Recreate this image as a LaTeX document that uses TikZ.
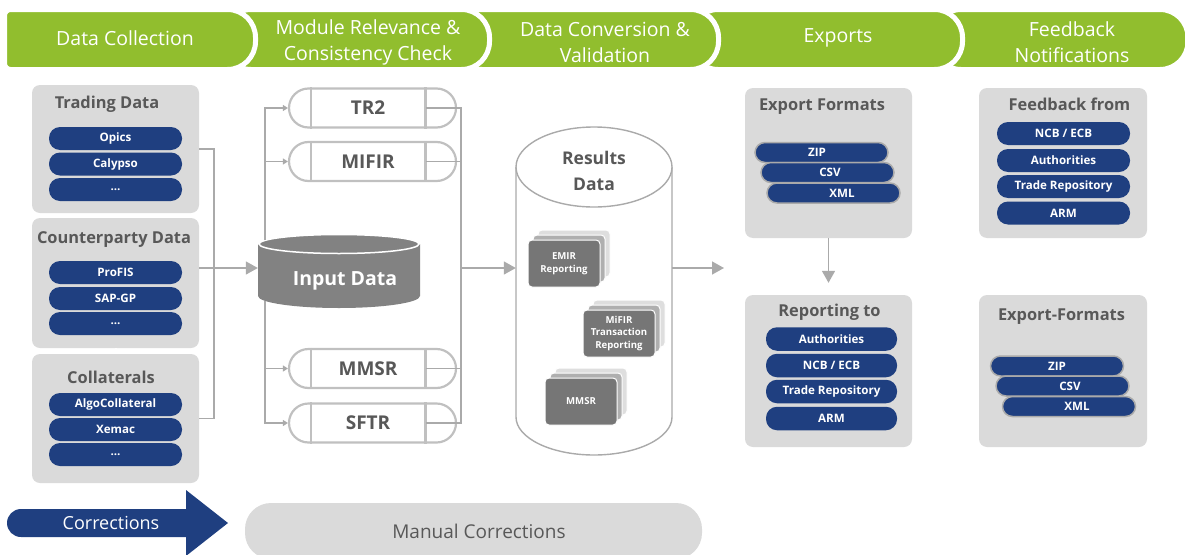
\documentclass[tikz,border=0pt]{standalone}
\usepackage{fontspec}
\setmainfont{Open Sans}
\usetikzlibrary{arrows.meta}
\definecolor{hgreen}{RGB}{145,190,46}
\definecolor{boxgray}{RGB}{218,218,218}
\definecolor{pblue}{RGB}{31,63,128}
\definecolor{tgray}{RGB}{88,88,88}
\definecolor{lgray}{RGB}{170,170,170}
\definecolor{mgray}{RGB}{192,192,192}
\definecolor{cgray}{RGB}{130,130,130}
\definecolor{cardA}{RGB}{118,118,118}
\definecolor{cardB}{RGB}{175,175,175}
\definecolor{cardC}{RGB}{222,222,222}
\begin{document}
\begin{tikzpicture}[x=1pt,y=1pt,
  tab/.style={fill=hgreen, draw=white, line width=5pt},
  tabtext/.style={text=white, font=\fontsize{19.5}{26}\selectfont, align=center, inner sep=0pt},
  gbox/.style={fill=boxgray, rounded corners=8pt, inner sep=0pt, minimum width=167pt},
  btitle/.style={text=tgray, font=\bfseries\fontsize{16.4}{19}\selectfont, inner sep=0pt},
  pill/.style={fill=pblue, text=white, font=\bfseries\fontsize{11.6}{13}\selectfont, rounded corners=11pt, minimum width=133pt, minimum height=23pt, inner sep=0pt},
  spill/.style={fill=pblue, draw=lgray, line width=1.5pt, rounded corners=10pt, minimum width=133pt, minimum height=20pt, inner sep=0pt},
  ptxt/.style={text=white, font=\bfseries\fontsize{11.6}{13}\selectfont, inner sep=0pt},
  modbox/.style={draw=mgray, line width=2.2pt, fill=white, rounded corners=19.5pt, minimum width=167pt, minimum height=39pt, inner sep=0pt},
  modtxt/.style={text=tgray, font=\bfseries\fontsize{19}{22}\selectfont, inner sep=0pt},
  conn/.style={draw=lgray, line width=1.5pt},
  smallarr/.style={-{Triangle[width=6pt,length=5pt]}},
  bigarr/.style={-{Triangle[width=13pt,length=12pt]}},
  card/.style={rounded corners=4pt, draw=white, line width=1pt, minimum width=72pt, minimum height=47pt, inner sep=0pt},
  cardtxt/.style={text=white, font=\bfseries\fontsize{9.6}{12.8}\selectfont, align=center, inner sep=0pt}
]
\useasboundingbox (0,0) rectangle (1185,-554);
\clip (0,0) rectangle (1185,-554);

% ---------------- header tabs ----------------
\filldraw[tab] (940,-9.5) [rounded corners=28pt] -- (1188,-9.5) -- (1188,-69.5) -- (940,-69.5) -- (933,-69.5) -- (933,-9.5) -- cycle;
\filldraw[tab] (700,-9.5) [rounded corners=28pt] -- (962.5,-9.5) -- (962.5,-69.5) -- (700,-69.5) -- (690,-69.5) -- (690,-9.5) -- cycle;
\filldraw[tab] (460,-9.5) [rounded corners=28pt] -- (718.5,-9.5) -- (718.5,-69.5) -- (460,-69.5) -- (454,-69.5) -- (454,-9.5) -- cycle;
\filldraw[tab] (230,-9.5) [rounded corners=28pt] -- (489.5,-9.5) -- (489.5,-69.5) -- (230,-69.5) -- (223,-69.5) -- (223,-9.5) -- cycle;
\filldraw[tab] (20,-9.5) [rounded corners=28pt] -- (255.5,-9.5) -- (255.5,-69.5) -- (20,-69.5) [rounded corners=6pt] -- (4.5,-69.5) -- (4.5,-9.5) -- cycle;

\node[tabtext] (h1) at (125,-38) {Data Collection};
\node[tabtext] (h2) at (368,-42) {Module Relevance \&\\Consistency Check};
\node[tabtext] (h3) at (605,-42) {Data Conversion \&\\Validation};
\node[tabtext] (h4) at (838,-38) {Exports};
\node[tabtext] (h5) at (1072,-42) {Feedback\\Notifications};

% ---------------- data collection ----------------
\node[gbox, minimum height=128pt] (trading) at (115.5,-149) {};
\node[gbox, minimum height=130pt] (counter) at (115.5,-283) {};
\node[gbox, minimum height=129pt] (collat) at (115.5,-418.5) {};
\draw[white, line width=2pt, dash pattern=on 2pt off 2.5pt] (counter.south) -- (collat.north);

\node[btitle] (tTrading) at (107,-104) {Trading Data};
\node[btitle] (tCounter) at (114,-240) {Counterparty Data};
\node[btitle] (tCollat) at (111,-377) {Collaterals};

\node[pill] (opics) at (115.5,-138.5) {Opics};
\node[pill] (calypso) at (115.5,-164) {Calypso};
\node[pill] (tdots) at (115.5,-189.5) {...};
\node[pill] (profis) at (115.5,-272.5) {ProFIS};
\node[pill] (sapgp) at (115.5,-298.5) {SAP-GP};
\node[pill] (cdots) at (115.5,-323.5) {...};
\node[pill] (algo) at (115.5,-404.5) {AlgoCollateral};
\node[pill] (xemac) at (115.5,-429.5) {Xemac};
\node[pill] (kdots) at (115.5,-454.5) {...};

% ---------------- input data cylinder ----------------
\node[minimum width=162pt, minimum height=73pt, inner sep=0pt] (inp) at (339,-270.5) {};
\fill[cgray] (258,-244) -- (258,-296) arc[start angle=180, end angle=360, x radius=81, y radius=12] -- (420,-244) -- cycle;
\filldraw[fill=cgray, draw=white, line width=1.5pt] (339,-244) ellipse [x radius=80, y radius=9.5];
\node[text=white, font=\bfseries\fontsize{19.5}{22}\selectfont, inner sep=0pt] (inpTxt) at (345,-281) {Input Data};

\coordinate (bx) at (214,-268);
\draw[conn] (trading.east) -| (bx) |- (collat.east);
\draw[conn, bigarr] (counter.east |- bx) -- (inp.west |- bx);

% ---------------- modules ----------------
\node[modbox] (tr2) at (372.5,-108) {};
\node[modbox] (mifir) at (372.5,-161.5) {};
\node[modbox] (mmsr) at (372.5,-368.5) {};
\node[modbox] (sftr) at (372.5,-423) {};
\foreach \m in {tr2,mifir,mmsr,sftr}{
  \draw[mgray, line width=2.2pt] ([xshift=-61.5pt]\m.north) -- ([xshift=-61.5pt]\m.south);
  \draw[mgray, line width=2.2pt] ([xshift=53pt]\m.north) -- ([xshift=53pt]\m.south);
}
\node[modtxt] (tr2t) at ([xshift=-4.5pt]tr2.center) {TR2};
\node[modtxt] (mifirt) at ([xshift=-4.5pt]mifir.center) {MIFIR};
\node[modtxt] (mmsrt) at ([xshift=-4.5pt]mmsr.center) {MMSR};
\node[modtxt] (sftrt) at ([xshift=-4.5pt]sftr.center) {SFTR};

\coordinate (inTop) at (265,-240);
\coordinate (inBot) at (265,-301);
\draw[conn, smallarr] (inTop) |- (tr2.west);
\draw[conn, smallarr] (inTop) |- (mifir.west);
\draw[conn, smallarr] (inBot) |- (mmsr.west);
\draw[conn, smallarr] (inBot) |- (sftr.west);

\coordinate (rc) at (461,-268);
\foreach \m in {tr2,mifir,mmsr,sftr}{
  \draw[conn] ([xshift=53pt]\m.center) -| (rc);
}

% ---------------- results cylinder ----------------
\node[minimum width=156pt, minimum height=328pt, inner sep=0pt] (res) at (594,-291) {};
\filldraw[fill=white, draw=lgray, line width=1.4pt] (516,-167) -- (516,-417) arc[start angle=180, end angle=360, x radius=78, y radius=38] -- (672,-167);
\filldraw[fill=white, draw=lgray, line width=1.4pt] (594,-167) ellipse [x radius=78, y radius=40];
\node[text=tgray, font=\bfseries\fontsize{17.5}{26}\selectfont, align=center, inner sep=0pt] (resTxt) at (594,-171) {Results\\Data};
\draw[conn, bigarr] (rc) -- (res.west |- rc);

% cards
\node[card, fill=cardC] (emirC) at (574,-253.5) {};
\node[card, fill=cardB] (emirB) at (569,-258.5) {};
\node[card, fill=cardA] (emirA) at (564,-263.5) {};
\node[cardtxt] (emirT) at (emirA.center) {EMIR\\Reporting};
\node[card, fill=cardC] (mifC) at (629,-323.5) {};
\node[card, fill=cardB] (mifB) at (624,-328.5) {};
\node[card, fill=cardA] (mifA) at (619,-333.5) {};
\node[cardtxt] (mifT) at (mifA.center) {MiFIR\\Transaction\\Reporting};
\node[card, fill=cardC] (mmC) at (591,-391.5) {};
\node[card, fill=cardB] (mmB) at (586,-396.5) {};
\node[card, fill=cardA] (mmA) at (581,-401.5) {};
\node[cardtxt] (mmT) at (mmA.center) {MMSR};

\coordinate (expIn) at (724,-268);
\draw[conn, bigarr] (res.east |- rc) -- (expIn);

% ---------------- exports ----------------
\node[gbox, minimum height=150pt] (expf) at (828.5,-163) {};
\node[btitle] (tExp) at (822,-107) {Export Formats};
\node[spill] (zipA) at (821.5,-152.5) {};
\node[spill] (csvA) at (827.5,-172.5) {};
\node[spill] (xmlA) at (833.5,-193) {};
\node[ptxt] (zipAt) at ([xshift=-4.5pt]zipA.center) {ZIP};
\node[ptxt] (csvAt) at ([xshift=2.5pt]csvA.center) {CSV};
\node[ptxt] (xmlAt) at ([xshift=8.5pt]xmlA.center) {XML};

\node[gbox, minimum height=152pt] (rep) at (828.5,-371) {};
\node[btitle] (tRep) at (829.5,-312) {Reporting to};
\node[pill, minimum width=131pt, minimum height=23.5pt] (rAuth) at (831.5,-339) {Authorities};
\node[pill, minimum width=131pt, minimum height=23.5pt] (rNcb) at (831.5,-365.5) {NCB / ECB};
\node[pill, minimum width=131pt, minimum height=23.5pt] (rTr) at (831.5,-391.5) {Trade Repository};
\node[pill, minimum width=131pt, minimum height=23.5pt] (rArm) at (831.5,-418.5) {ARM};

\draw[conn, bigarr, shorten >=12pt] (expf.south) -- (rep.north);

% ---------------- feedback ----------------
\node[gbox, minimum width=168pt, minimum height=150pt] (fb) at (1063,-163) {};
\node[btitle] (tFb) at (1069.5,-104) {Feedback from};
\node[pill] (fNcb) at (1063.5,-133.5) {NCB / ECB};
\node[pill] (fAuth) at (1063.5,-160.5) {Authorities};
\node[pill] (fTr) at (1063.5,-186.5) {Trade Repository};
\node[pill] (fArm) at (1063.5,-213) {ARM};

\node[gbox, minimum width=168pt, minimum height=152pt] (ef) at (1063,-371) {};
\node[btitle] (tEf) at (1061.5,-317) {Export-Formats};
\node[spill] (zipB) at (1057,-366) {};
\node[spill] (csvB) at (1062.5,-386) {};
\node[spill] (xmlB) at (1069,-406.5) {};
\node[ptxt] (zipBt) at (zipB.center) {ZIP};
\node[ptxt] (csvBt) at ([xshift=7.5pt]csvB.center) {CSV};
\node[ptxt] (xmlBt) at ([xshift=8pt]xmlB.center) {XML};

% ---------------- corrections ----------------
\fill[pblue] (21,-509) -- (186,-509) -- (186,-490) -- (228,-523) -- (186,-556) -- (186,-537) -- (21,-537) arc[start angle=270, end angle=90, radius=14] -- cycle;
\node[text=white, font=\fontsize{18}{21}\selectfont, inner sep=0pt] (corr) at (111,-523) {Corrections};
\node[fill=boxgray, rounded corners=26pt, minimum width=457pt, minimum height=56pt, inner sep=0pt] (man) at (473.5,-531) {};
\node[text=tgray, font=\fontsize{19}{22}\selectfont, inner sep=0pt] (manT) at (479,-531) {Manual Corrections};
\end{tikzpicture}
\end{document}
